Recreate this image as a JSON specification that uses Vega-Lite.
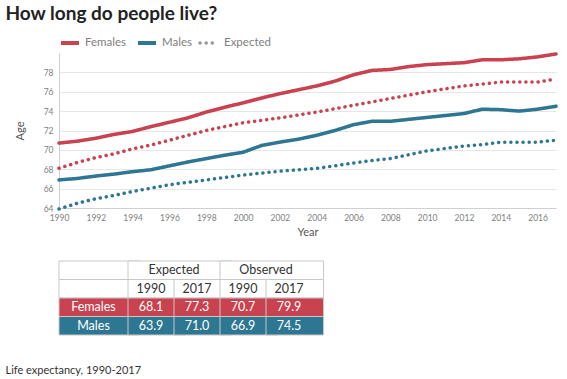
{
  "$schema": "https://vega.github.io/schema/vega-lite/v6.json",
  "padding": {"left": 5, "top": 5, "right": 5, "bottom": 5},
  "background": "white",
  "title": {"text": "How long do people live?", "anchor": "start", "fontSize": 19, "fontWeight": "bold", "color": "#222", "offset": 8},
  "config": {
    "font": "Lato",
    "view": {"stroke": null},
    "axis": {"labelColor": "#808080", "labelFontSize": 8.5, "titleColor": "#555", "titleFontWeight": "normal", "titleFontSize": 11, "gridColor": "#e6e6e6", "domainColor": "#d0d0d0", "ticks": false},
    "legend": {"layout": {"top": {"anchor": "start", "direction": "horizontal", "margin": 6}}}
  },
  "datasets": {
    "life": [
      {"year": 1990, "sex": "Females", "type": "Observed", "age": 70.7},
      {"year": 1991, "sex": "Females", "type": "Observed", "age": 70.9},
      {"year": 1992, "sex": "Females", "type": "Observed", "age": 71.2},
      {"year": 1993, "sex": "Females", "type": "Observed", "age": 71.6},
      {"year": 1994, "sex": "Females", "type": "Observed", "age": 71.9},
      {"year": 1995, "sex": "Females", "type": "Observed", "age": 72.4},
      {"year": 1996, "sex": "Females", "type": "Observed", "age": 72.85},
      {"year": 1997, "sex": "Females", "type": "Observed", "age": 73.3},
      {"year": 1998, "sex": "Females", "type": "Observed", "age": 73.9},
      {"year": 1999, "sex": "Females", "type": "Observed", "age": 74.4},
      {"year": 2000, "sex": "Females", "type": "Observed", "age": 74.85},
      {"year": 2001, "sex": "Females", "type": "Observed", "age": 75.35},
      {"year": 2002, "sex": "Females", "type": "Observed", "age": 75.8},
      {"year": 2003, "sex": "Females", "type": "Observed", "age": 76.2},
      {"year": 2004, "sex": "Females", "type": "Observed", "age": 76.6},
      {"year": 2005, "sex": "Females", "type": "Observed", "age": 77.1},
      {"year": 2006, "sex": "Females", "type": "Observed", "age": 77.75},
      {"year": 2007, "sex": "Females", "type": "Observed", "age": 78.2},
      {"year": 2008, "sex": "Females", "type": "Observed", "age": 78.3},
      {"year": 2009, "sex": "Females", "type": "Observed", "age": 78.6},
      {"year": 2010, "sex": "Females", "type": "Observed", "age": 78.8},
      {"year": 2011, "sex": "Females", "type": "Observed", "age": 78.9},
      {"year": 2012, "sex": "Females", "type": "Observed", "age": 79.0},
      {"year": 2013, "sex": "Females", "type": "Observed", "age": 79.3},
      {"year": 2014, "sex": "Females", "type": "Observed", "age": 79.3},
      {"year": 2015, "sex": "Females", "type": "Observed", "age": 79.4},
      {"year": 2016, "sex": "Females", "type": "Observed", "age": 79.6},
      {"year": 2017, "sex": "Females", "type": "Observed", "age": 79.9},
      {"year": 1990, "sex": "Females", "type": "Expected", "age": 68.1},
      {"year": 1991, "sex": "Females", "type": "Expected", "age": 68.7},
      {"year": 1992, "sex": "Females", "type": "Expected", "age": 69.2},
      {"year": 1993, "sex": "Females", "type": "Expected", "age": 69.6},
      {"year": 1994, "sex": "Females", "type": "Expected", "age": 70.1},
      {"year": 1995, "sex": "Females", "type": "Expected", "age": 70.5},
      {"year": 1996, "sex": "Females", "type": "Expected", "age": 71.0},
      {"year": 1997, "sex": "Females", "type": "Expected", "age": 71.5},
      {"year": 1998, "sex": "Females", "type": "Expected", "age": 72.0},
      {"year": 1999, "sex": "Females", "type": "Expected", "age": 72.4},
      {"year": 2000, "sex": "Females", "type": "Expected", "age": 72.8},
      {"year": 2001, "sex": "Females", "type": "Expected", "age": 73.05},
      {"year": 2002, "sex": "Females", "type": "Expected", "age": 73.3},
      {"year": 2003, "sex": "Females", "type": "Expected", "age": 73.6},
      {"year": 2004, "sex": "Females", "type": "Expected", "age": 73.9},
      {"year": 2005, "sex": "Females", "type": "Expected", "age": 74.25},
      {"year": 2006, "sex": "Females", "type": "Expected", "age": 74.6},
      {"year": 2007, "sex": "Females", "type": "Expected", "age": 74.95},
      {"year": 2008, "sex": "Females", "type": "Expected", "age": 75.3},
      {"year": 2009, "sex": "Females", "type": "Expected", "age": 75.65},
      {"year": 2010, "sex": "Females", "type": "Expected", "age": 76.0},
      {"year": 2011, "sex": "Females", "type": "Expected", "age": 76.3},
      {"year": 2012, "sex": "Females", "type": "Expected", "age": 76.6},
      {"year": 2013, "sex": "Females", "type": "Expected", "age": 76.8},
      {"year": 2014, "sex": "Females", "type": "Expected", "age": 77.0},
      {"year": 2015, "sex": "Females", "type": "Expected", "age": 77.0},
      {"year": 2016, "sex": "Females", "type": "Expected", "age": 77.0},
      {"year": 2017, "sex": "Females", "type": "Expected", "age": 77.3},
      {"year": 1990, "sex": "Males", "type": "Observed", "age": 66.9},
      {"year": 1991, "sex": "Males", "type": "Observed", "age": 67.05},
      {"year": 1992, "sex": "Males", "type": "Observed", "age": 67.3},
      {"year": 1993, "sex": "Males", "type": "Observed", "age": 67.5},
      {"year": 1994, "sex": "Males", "type": "Observed", "age": 67.75},
      {"year": 1995, "sex": "Males", "type": "Observed", "age": 67.95},
      {"year": 1996, "sex": "Males", "type": "Observed", "age": 68.35},
      {"year": 1997, "sex": "Males", "type": "Observed", "age": 68.75},
      {"year": 1998, "sex": "Males", "type": "Observed", "age": 69.1},
      {"year": 1999, "sex": "Males", "type": "Observed", "age": 69.45},
      {"year": 2000, "sex": "Males", "type": "Observed", "age": 69.75},
      {"year": 2001, "sex": "Males", "type": "Observed", "age": 70.45},
      {"year": 2002, "sex": "Males", "type": "Observed", "age": 70.8},
      {"year": 2003, "sex": "Males", "type": "Observed", "age": 71.1},
      {"year": 2004, "sex": "Males", "type": "Observed", "age": 71.5},
      {"year": 2005, "sex": "Males", "type": "Observed", "age": 72.0},
      {"year": 2006, "sex": "Males", "type": "Observed", "age": 72.6},
      {"year": 2007, "sex": "Males", "type": "Observed", "age": 72.95},
      {"year": 2008, "sex": "Males", "type": "Observed", "age": 72.95},
      {"year": 2009, "sex": "Males", "type": "Observed", "age": 73.15},
      {"year": 2010, "sex": "Males", "type": "Observed", "age": 73.35},
      {"year": 2011, "sex": "Males", "type": "Observed", "age": 73.55},
      {"year": 2012, "sex": "Males", "type": "Observed", "age": 73.75},
      {"year": 2013, "sex": "Males", "type": "Observed", "age": 74.2},
      {"year": 2014, "sex": "Males", "type": "Observed", "age": 74.15},
      {"year": 2015, "sex": "Males", "type": "Observed", "age": 74.0},
      {"year": 2016, "sex": "Males", "type": "Observed", "age": 74.2},
      {"year": 2017, "sex": "Males", "type": "Observed", "age": 74.5},
      {"year": 1990, "sex": "Males", "type": "Expected", "age": 63.9},
      {"year": 1991, "sex": "Males", "type": "Expected", "age": 64.5},
      {"year": 1992, "sex": "Males", "type": "Expected", "age": 64.95},
      {"year": 1993, "sex": "Males", "type": "Expected", "age": 65.3},
      {"year": 1994, "sex": "Males", "type": "Expected", "age": 65.7},
      {"year": 1995, "sex": "Males", "type": "Expected", "age": 66.05},
      {"year": 1996, "sex": "Males", "type": "Expected", "age": 66.4},
      {"year": 1997, "sex": "Males", "type": "Expected", "age": 66.65},
      {"year": 1998, "sex": "Males", "type": "Expected", "age": 66.9},
      {"year": 1999, "sex": "Males", "type": "Expected", "age": 67.15},
      {"year": 2000, "sex": "Males", "type": "Expected", "age": 67.4},
      {"year": 2001, "sex": "Males", "type": "Expected", "age": 67.6},
      {"year": 2002, "sex": "Males", "type": "Expected", "age": 67.8},
      {"year": 2003, "sex": "Males", "type": "Expected", "age": 67.95},
      {"year": 2004, "sex": "Males", "type": "Expected", "age": 68.1},
      {"year": 2005, "sex": "Males", "type": "Expected", "age": 68.35},
      {"year": 2006, "sex": "Males", "type": "Expected", "age": 68.65},
      {"year": 2007, "sex": "Males", "type": "Expected", "age": 68.9},
      {"year": 2008, "sex": "Males", "type": "Expected", "age": 69.1},
      {"year": 2009, "sex": "Males", "type": "Expected", "age": 69.5},
      {"year": 2010, "sex": "Males", "type": "Expected", "age": 69.9},
      {"year": 2011, "sex": "Males", "type": "Expected", "age": 70.15},
      {"year": 2012, "sex": "Males", "type": "Expected", "age": 70.4},
      {"year": 2013, "sex": "Males", "type": "Expected", "age": 70.55},
      {"year": 2014, "sex": "Males", "type": "Expected", "age": 70.8},
      {"year": 2015, "sex": "Males", "type": "Expected", "age": 70.8},
      {"year": 2016, "sex": "Males", "type": "Expected", "age": 70.8},
      {"year": 2017, "sex": "Males", "type": "Expected", "age": 71.0}
    ],
    "table": [
      {"r": "h1", "c1": "lab", "c2": "e90", "t": "", "tc": "lab_b"},
      {"r": "h1", "c1": "e90", "c2": "o90", "t": "Expected", "tc": "e17"},
      {"r": "h1", "c1": "o90", "c2": "end", "t": "Observed", "tc": "o17"},
      {"r": "h2", "c1": "lab", "c2": "e90", "t": "", "tc": "lab_b"},
      {"r": "h2", "c1": "e90", "c2": "e17", "t": "1990", "tc": "e90_b"},
      {"r": "h2", "c1": "e17", "c2": "o90", "t": "2017", "tc": "e17_b"},
      {"r": "h2", "c1": "o90", "c2": "o17", "t": "1990", "tc": "o90_b"},
      {"r": "h2", "c1": "o17", "c2": "end", "t": "2017", "tc": "o17_b"},
      {"r": "Females", "c1": "lab", "c2": "e90", "t": "Females", "tc": "lab_b"},
      {"r": "Females", "c1": "e90", "c2": "e17", "t": "68.1", "tc": "e90_b"},
      {"r": "Females", "c1": "e17", "c2": "o90", "t": "77.3", "tc": "e17_b"},
      {"r": "Females", "c1": "o90", "c2": "o17", "t": "70.7", "tc": "o90_b"},
      {"r": "Females", "c1": "o17", "c2": "end", "t": "79.9", "tc": "o17_b"},
      {"r": "Males", "c1": "lab", "c2": "e90", "t": "Males", "tc": "lab_b"},
      {"r": "Males", "c1": "e90", "c2": "e17", "t": "63.9", "tc": "e90_b"},
      {"r": "Males", "c1": "e17", "c2": "o90", "t": "71.0", "tc": "e17_b"},
      {"r": "Males", "c1": "o90", "c2": "o17", "t": "66.9", "tc": "o90_b"},
      {"r": "Males", "c1": "o17", "c2": "end", "t": "74.5", "tc": "o17_b"}
    ]
  },
  "vconcat": [
    {
      "width": 497,
      "height": 155,
      "data": {"name": "life"},
      "mark": {"type": "line", "strokeWidth": 3.5, "strokeJoin": "round", "strokeCap": "round"},
      "encoding": {
        "x": {"field": "year", "type": "quantitative", "scale": {"domain": [1990, 2017], "nice": false, "zero": false},
              "axis": {"title": "Year", "grid": false, "format": "d", "values": [1990,1992,1994,1996,1998,2000,2002,2004,2006,2008,2010,2012,2014,2016], "labelPadding": 5, "titlePadding": 5, "labelFlush": false}},
        "y": {"field": "age", "type": "quantitative", "scale": {"domain": [64, 80], "nice": false, "zero": false},
              "axis": {"title": "Age", "values": [64,66,68,70,72,74,76,78], "labelPadding": 6, "titlePadding": 18}},
        "color": {"field": "sex", "type": "nominal", "scale": {"domain": ["Females", "Males"], "range": ["#c8424f", "#2e7792"]},
                  "legend": {"title": null, "orient": "top", "symbolType": "stroke", "symbolStrokeWidth": 4, "symbolSize": 324, "labelFontSize": 11.5, "labelColor": "#808080", "offset": 1, "columnPadding": 3, "labelOffset": 4}},
        "strokeDash": {"field": "type", "type": "nominal", "scale": {"domain": ["Observed", "Expected"], "range": [[1, 0], [0.1, 6]]},
                  "legend": {"title": null, "orient": "top", "values": ["Expected"], "symbolType": "stroke", "symbolStrokeColor": "#999", "symbolStrokeWidth": 3.5, "symbolSize": 324, "labelFontSize": 11.5, "labelColor": "#808080", "offset": 1, "labelOffset": 4,
                             "encoding": {"symbols": {"strokeCap": {"value": "round"}}}}},
        "detail": {"field": "type"}
      }
    },
    {
      "width": 276,
      "height": 74,
      "data": {"name": "table"},
      "title": {"text": "Life expectancy, 1990-2017", "orient": "bottom", "anchor": "start", "fontSize": 11, "fontWeight": "normal", "color": "#333", "dx": -53, "offset": 29},
      "encoding": {
        "y": {"field": "r", "type": "nominal", "scale": {"domain": ["h1", "h2", "Females", "Males"], "paddingInner": 0, "paddingOuter": 0}, "axis": null}
      },
      "layer": [
        {
          "mark": {"type": "rect", "stroke": "#c8c8c8", "strokeWidth": 1},
          "encoding": {
            "x": {"field": "c1", "type": "nominal", "bandPosition": 0, "scale": {"domain": ["lab", "lab_b", "lab_c", "e90", "e90_b", "e17", "e17_b", "o90", "o90_b", "o17", "o17_b", "end"], "paddingInner": 0, "paddingOuter": 0}, "axis": null},
            "x2": {"field": "c2"},
            "fill": {"condition": [{"test": "datum.r == 'Females'", "value": "#c8424f"}, {"test": "datum.r == 'Males'", "value": "#2e7792"}], "value": "white"}
          }
        },
        {
          "transform": [{"filter": "datum.c1 == 'lab' && datum.t != ''"}],
          "mark": {"type": "text", "fontSize": 12.5, "align": "center", "baseline": "middle", "color": "white"},
          "encoding": {
            "x": {"field": "tc", "type": "nominal", "bandPosition": 0.5},
            "text": {"field": "t"}
          }
        },
        {
          "transform": [{"filter": "datum.c1 != 'lab'"}],
          "mark": {"type": "text", "fontSize": 12.5, "align": "center", "baseline": "middle"},
          "encoding": {
            "x": {"field": "tc", "type": "nominal", "bandPosition": 0},
            "text": {"field": "t"},
            "color": {"condition": {"test": "datum.r == 'Females' || datum.r == 'Males'", "value": "white"}, "value": "#333"}
          }
        }
      ]
    }
  ],
  "spacing": 22
}
